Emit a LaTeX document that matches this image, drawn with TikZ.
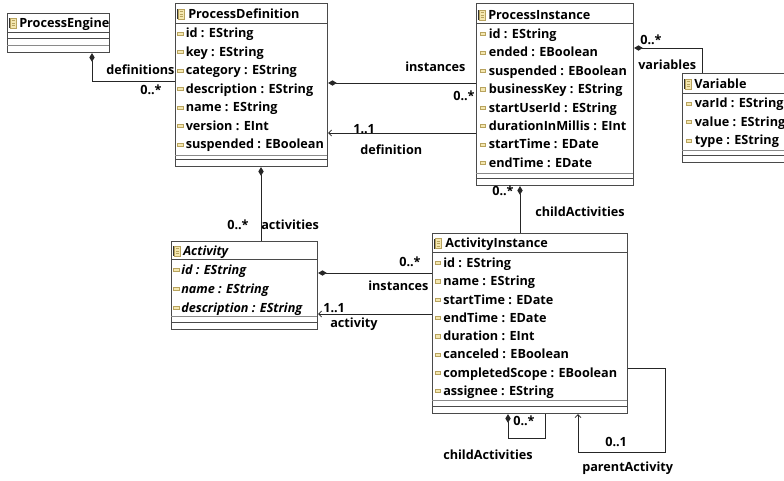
\documentclass[tikz,border=0pt]{standalone}
\usepackage{fontspec}
\setmainfont{Open Sans}
\usetikzlibrary{arrows.meta,calc}
\definecolor{boxc}{HTML}{4A4A4A}
\definecolor{sepc}{HTML}{8A8A8A}
\definecolor{iconf}{HTML}{F4E7B0}
\definecolor{icond}{HTML}{B8A35E}
\tikzset{
  cls/.style={draw=boxc, line width=0.85pt, fill=white, inner sep=0pt, anchor=north west},
  txt/.style={font=\fontsize{9.5}{11}\bfseries\selectfont, inner sep=0pt, anchor=west, text height=7.8pt, text depth=1.2pt},
  itxt/.style={txt, font=\fontsize{9.5}{11}\bfseries\itshape\selectfont},
  sepline/.style={draw=boxc, line width=0.75pt},
  graysep/.style={draw=sepc, line width=0.6pt},
  rowicon/.style={draw=icond, fill=iconf, line width=0.4pt},
  conn/.style={draw=black!85, line width=0.75pt},
  comp/.style={conn, {Diamond[length=6.5pt,width=4pt]}-},
  ref/.style={conn, -{Straight Barb[length=2.2pt,width=4.5pt,line width=0.6pt]}},
}
% header icon: #1 = left x, #2 = center y
\newcommand\hdricon[2]{%
  \fill[black!80] (#1-1.2,#2-5) rectangle (#1-0.2,#2+5);
  \draw[rowicon] (#1+0.5,#2-5) rectangle (#1+6,#2+5);
  \foreach \k in {-2.5,0,2.5} \draw[icond, line width=0.4pt] (#1+1.5,#2+\k) -- (#1+5,#2+\k);
}
% row icon: #1 = left x, #2 = center y
\newcommand\rowico[2]{\draw[rowicon] (#1,#2-1.6) rectangle (#1+5.5,#2+1.6);}
\begin{document}
\begin{tikzpicture}[x=0.75pt,y=-0.75pt]
\useasboundingbox (0,0) rectangle (784,480);
\clip (0,0) rectangle (784,480);

% ---------------- ProcessEngine
\node[cls, minimum width=102*0.75pt, minimum height=39*0.75pt] (pe) at (7,13) {};
\hdricon{10}{23}
\node[txt] (peh) at (19,23) {ProcessEngine};
\draw[sepline] (7,32) -- (109,32);
\draw[sepline] (7,38) -- (109,38);
\draw[graysep] (7,45.5) -- (109,45.5);

% ---------------- ProcessDefinition
\node[cls, minimum width=152*0.75pt, minimum height=163*0.75pt] (pd) at (175,3) {};
\hdricon{178}{14}
\node[txt] (pdh) at (188,14) {ProcessDefinition};
\draw[sepline] (175,23) -- (327,23);
\foreach \t [count=\i from 0] in {id : EString, key : EString, category : EString, description : EString, name : EString, version : EInt, suspended : EBoolean}{
  \pgfmathsetmacro\yy{33.5+18.5*\i}
  \rowico{177.5}{\yy}
  \node[txt] (pdr\i) at (185.5,\yy) {\t};
}
\draw[graysep] (175,155) -- (327,155);
\draw[sepline] (175,159.5) -- (327,159.5);

% ---------------- ProcessInstance
\node[cls, minimum width=157*0.75pt, minimum height=182*0.75pt] (pi) at (476,3) {};
\hdricon{479}{15}
\node[txt] (pih) at (488,15) {ProcessInstance};
\draw[sepline] (476,23.5) -- (633,23.5);
\foreach \t [count=\i from 0] in {id : EString, ended : EBoolean, suspended : EBoolean, businessKey : EString, startUserId : EString, durationInMillis : EInt, startTime : EDate, endTime : EDate}{
  \pgfmathsetmacro\yy{34+18.4*\i}
  \rowico{480}{\yy}
  \node[txt] (pir\i) at (488.5,\yy) {\t};
}
\draw[graysep] (476,173) -- (633,173);
\draw[sepline] (476,178) -- (633,178);

% ---------------- Variable
\node[cls, minimum width=130*0.75pt, minimum height=89*0.75pt] (var) at (682,73) {};
\hdricon{685}{84}
\node[txt] (varh) at (694,84) {Variable};
\draw[sepline] (682,93) -- (812,93);
\foreach \t [count=\i from 0] in {varId : EString, value : EString, type : EString}{
  \pgfmathsetmacro\yy{103.5+18.5*\i}
  \rowico{686}{\yy}
  \node[txt] (varr\i) at (694.5,\yy) {\t};
}
\draw[graysep] (682,150.5) -- (812,150.5);
\draw[sepline] (682,155.5) -- (812,155.5);

% ---------------- Activity
\node[cls, minimum width=146*0.75pt, minimum height=88*0.75pt] (act) at (171,241) {};
\hdricon{174}{251}
\node[itxt] (acth) at (183,251) {Activity};
\draw[sepline] (171,259.5) -- (317,259.5);
\foreach \t [count=\i from 0] in {id : EString, name : EString, description : EString}{
  \pgfmathsetmacro\yy{270+19*\i}
  \rowico{173.5}{\yy}
  \node[itxt] (actr\i) at (181,\yy) {\t};
}
\draw[graysep] (171,316.5) -- (317,316.5);
\draw[sepline] (171,322.5) -- (317,322.5);

% ---------------- ActivityInstance
\node[cls, minimum width=195*0.75pt, minimum height=180*0.75pt] (ai) at (432,233) {};
\hdricon{435}{243.5}
\node[txt] (aih) at (445,243.5) {ActivityInstance};
\draw[sepline] (432,252.5) -- (627,252.5);
\foreach \t [count=\i from 0] in {id : EString, name : EString, startTime : EDate, endTime : EDate, duration : EInt, canceled : EBoolean, completedScope : EBoolean, assignee : EString}{
  \pgfmathsetmacro\yy{263+18.3*\i}
  \rowico{435}{\yy}
  \node[txt] (air\i) at (443,\yy) {\t};
}
\draw[graysep] (432,400.5) -- (627,400.5);
\draw[sepline] (432,406.5) -- (627,406.5);

% ---------------- connectors
% ProcessEngine -> ProcessDefinition (definitions)
\draw[comp] (pe.south -| 92,0) |- (pd.west |- 0,81);
\node[txt] (l1) at (106,70.5) {definitions};
\node[txt] (l2) at (140,90) {0..*};

% ProcessDefinition -> ProcessInstance (instances)
\draw[comp] (pd.east |- 0,83) -- (pi.west |- 0,83);
\node[txt] (l3) at (405,67) {instances};
\node[txt] (l4) at (453,96) {0..*};

% ProcessInstance -> ProcessDefinition (definition)
\draw[ref] (pi.west |- 0,133) -- (pd.east |- 0,133);
\node[txt] (l5) at (353,129) {1..1};
\node[txt] (l6) at (360,150) {definition};

% ProcessInstance -> Variable (variables)
\draw[comp] (pi.east |- 0,48) -| (var.north -| 702,0);
\node[txt] (l7) at (640,40) {0..*};
\node[txt] (l8) at (638,65) {variables};

% ProcessInstance -> ActivityInstance (childActivities)
\draw[comp] (pi.south -| 520,0) -- (ai.north -| 520,0);
\node[txt] (l9) at (492,191) {0..*};
\node[txt] (l10) at (535,212) {childActivities};

% ProcessDefinition -> Activity (activities)
\draw[comp] (pd.south -| 261,0) -- (act.north -| 261,0);
\node[txt] (l11) at (227,225) {0..*};
\node[txt] (l12) at (261,225) {activities};

% Activity -> ActivityInstance (instances)
\draw[comp] (act.east |- 0,273) -- (ai.west |- 0,273);
\node[txt] (l13) at (399,262) {0..*};
\node[txt] (l14) at (368,286) {instances};

% ActivityInstance -> Activity (activity)
\draw[ref] (ai.west |- 0,314) -- (act.east |- 0,314);
\node[txt] (l15) at (323,308) {1..1};
\node[txt] (l16) at (330,323) {activity};

% ActivityInstance self (childActivities)
\coordinate (c1) at (545,438);
\draw[comp] (ai.south -| 508,0) |- (c1) -- (ai.south -| c1);
\node[txt] (l17) at (513,421) {0..*};
\node[txt] (l18) at (443,455) {childActivities};

% ActivityInstance self (parentActivity)
\coordinate (c2) at (665,452);
\draw[ref] (ai.east |- 0,368) -| (c2) -| (ai.south -| 578,0);
\node[txt] (l19) at (605,442) {0..1};
\node[txt] (l20) at (582,467) {parentActivity};
\end{tikzpicture}
\end{document}
